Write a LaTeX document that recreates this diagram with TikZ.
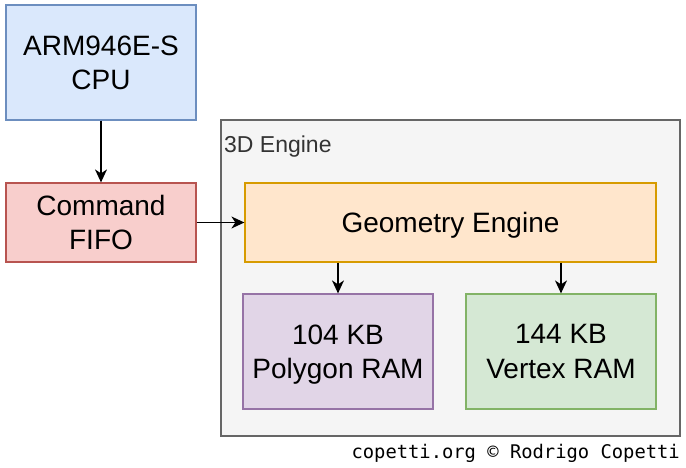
\documentclass[tikz,border=0pt]{standalone}
\usepackage{fontspec}
\setmainfont{Liberation Sans}
\newfontfamily\footmono{DejaVu Sans Mono}
\usetikzlibrary{arrows.meta}
\definecolor{bluefill}{HTML}{DAE8FC}\definecolor{bluedraw}{HTML}{6C8EBF}
\definecolor{redfill}{HTML}{F8CECC}\definecolor{reddraw}{HTML}{B85450}
\definecolor{greyfill}{HTML}{F5F5F5}\definecolor{greydraw}{HTML}{666666}
\definecolor{orangefill}{HTML}{FFE6CC}\definecolor{orangedraw}{HTML}{D79B00}
\definecolor{purplefill}{HTML}{E1D5E7}\definecolor{purpledraw}{HTML}{9673A6}
\definecolor{greenfill}{HTML}{D5E8D4}\definecolor{greendraw}{HTML}{82B366}
\definecolor{labelgrey}{HTML}{333333}
\tikzset{
  blockbox/.style={draw, line width=1.2pt, inner sep=0pt, align=center,
    text depth=0pt, font=\fontsize{28}{34.5}\selectfont},
  conn/.style={line width=1.3pt, -{Stealth[length=13pt,width=12pt,inset=4pt]}}
}
\begin{document}
\begin{tikzpicture}[x=1pt,y=-1pt]
\useasboundingbox (0,0) rectangle (686,468);
\node[blockbox, fill=greyfill, draw=greydraw, minimum width=459pt, minimum height=316pt] (eng) at (450.5,278) {};
\node[anchor=north west, inner sep=0pt, text=labelgrey, font=\fontsize{23}{27}\selectfont] (englabel) at (224,136) {3D Engine};
\node[blockbox, fill=bluefill, draw=bluedraw, minimum width=190pt, minimum height=115pt] (cpu) at (101,62.5) {ARM946E-S\\CPU};
\node[blockbox, fill=redfill, draw=reddraw, minimum width=190pt, minimum height=79pt] (fifo) at (101,222.5) {Command\\FIFO};
\node[blockbox, fill=orangefill, draw=orangedraw, minimum width=411pt, minimum height=79pt] (geo) at (450.5,222.5) {Geometry Engine};
\node[blockbox, fill=purplefill, draw=purpledraw, minimum width=190pt, minimum height=115pt] (poly) at (338,351.5) {104 KB\\Polygon RAM};
\node[blockbox, fill=greenfill, draw=greendraw, minimum width=190pt, minimum height=115pt] (vert) at (561,351.5) {144 KB\\Vertex RAM};
\draw[conn] (cpu.south) -- (fifo.north);
\draw[conn] (fifo.east) -- (geo.west);
\draw[conn] (geo.south -| poly.north) -- (poly.north);
\draw[conn] (geo.south -| vert.north) -- (vert.north);
\node[anchor=east, inner sep=0pt, font=\footmono\fontsize{18.8}{22}\selectfont] (foot) at (680,453) {copetti.org © Rodrigo Copetti};
\end{tikzpicture}
\end{document}
